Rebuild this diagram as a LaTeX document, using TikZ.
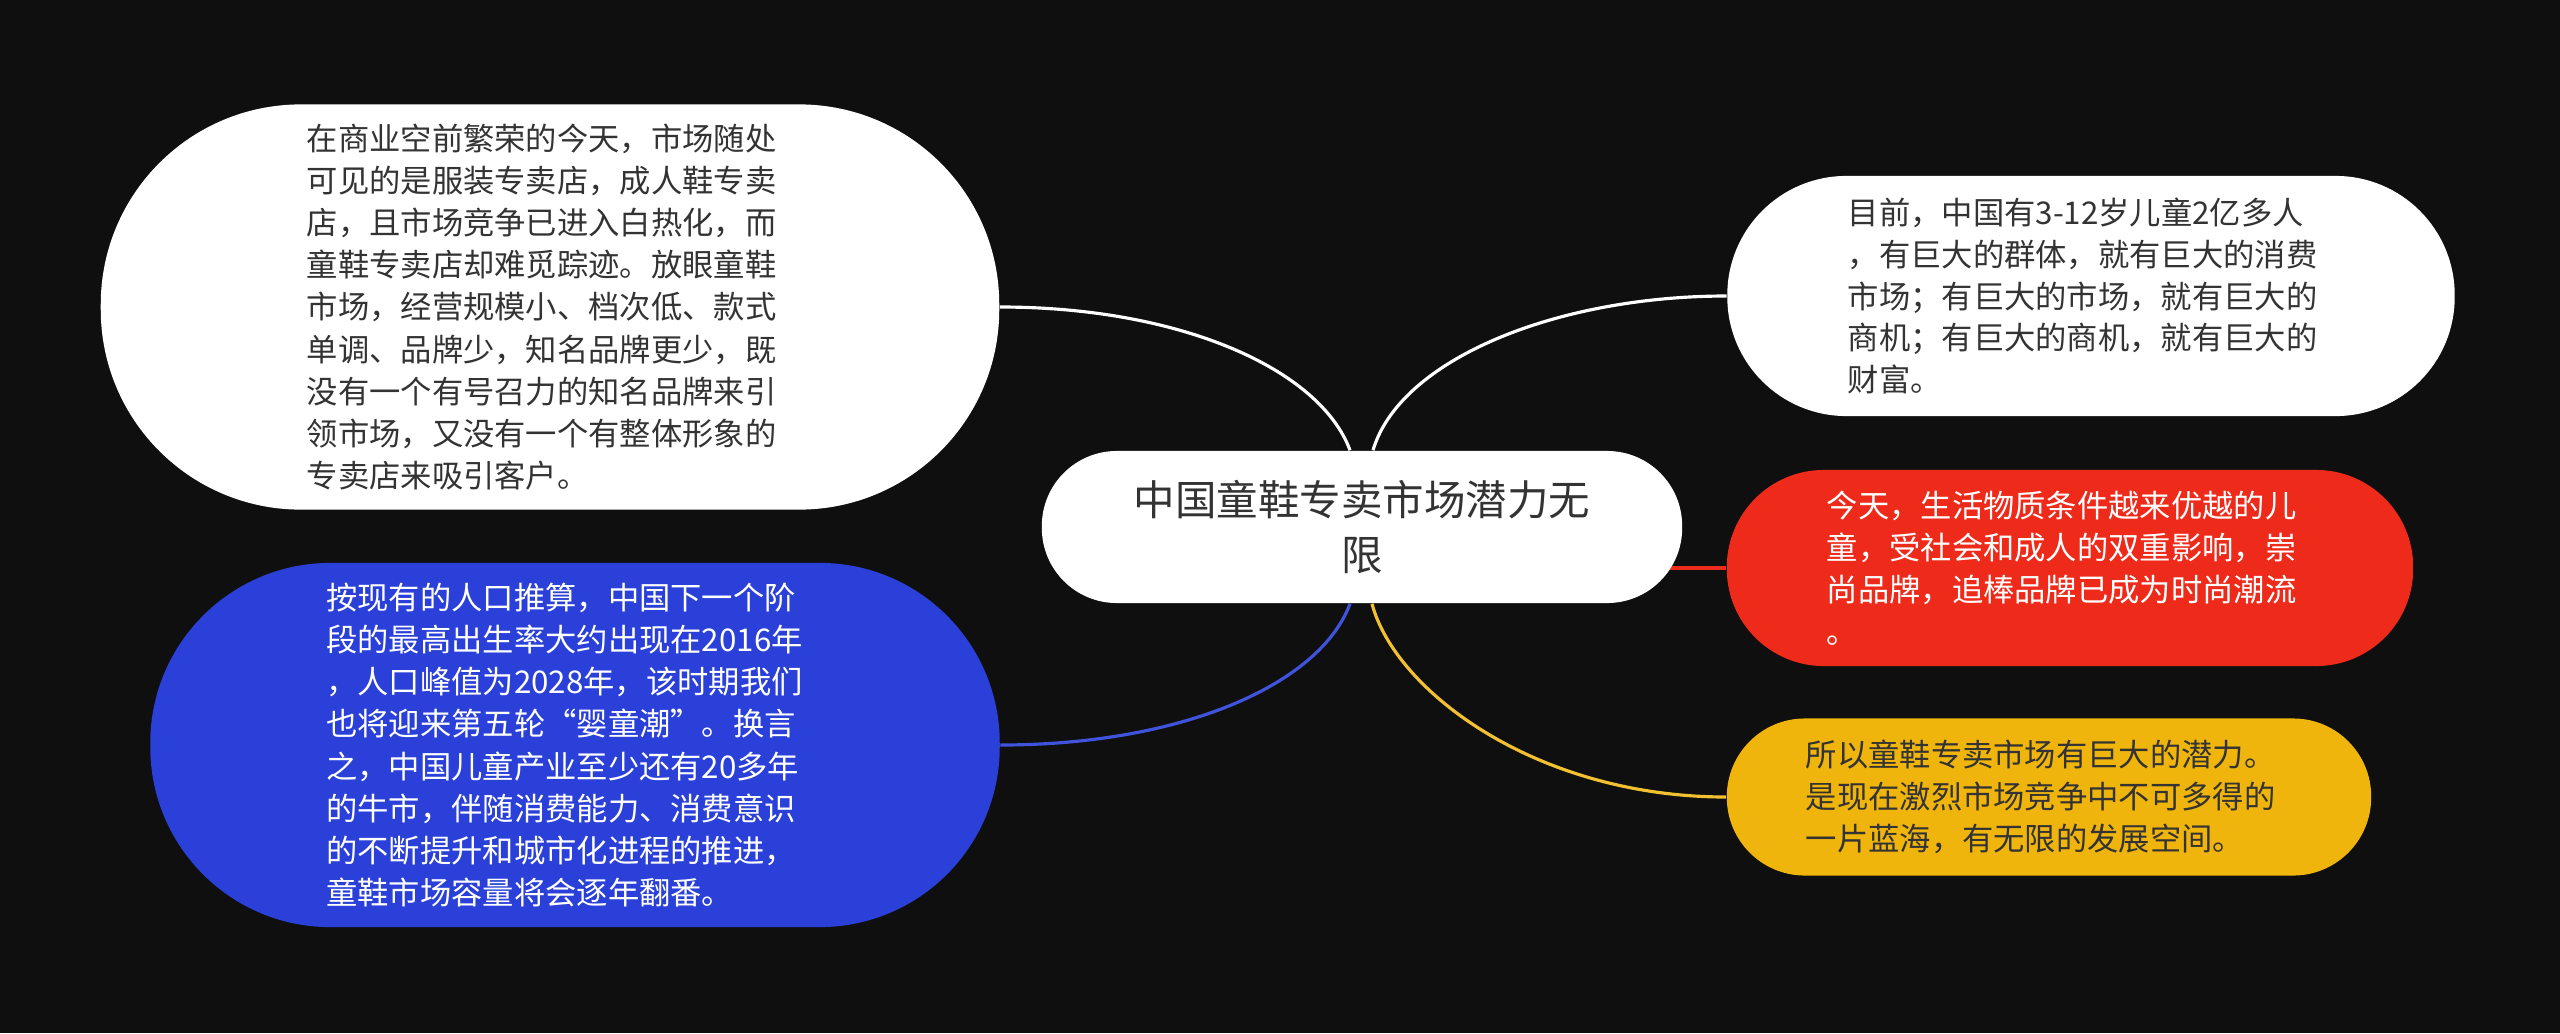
\documentclass[tikz,border=0pt]{standalone}
\usepackage{fontspec}
\newfontfamily\cjkfont{Noto Sans CJK SC}
\usetikzlibrary{backgrounds}
\definecolor{bgdark}{HTML}{0F0F10}
\definecolor{topicblue}{HTML}{2A40D8}
\definecolor{topicred}{HTML}{EE2B1B}
\definecolor{topicyellow}{HTML}{F0B50D}
\definecolor{inkdark}{HTML}{333333}
\tikzset{
  topic/.style={rectangle, inner sep=0pt, align=left, text width=4.86cm,
    font=\cjkfont\fontsize{8.9pt}{12pt}\selectfont},
  topicwide/.style={topic, font=\cjkfont\fontsize{8.9pt}{11.9pt}\selectfont},
  link/.style={line width=0.9pt}
}
\begin{document}
\begin{tikzpicture}[x=0.01cm, y=-0.01cm, line join=round, line cap=round]
    \useasboundingbox (0,0) rectangle (2560,1033);
    % main topic
    \node[rectangle, fill=white, text=inkdark, align=center, inner sep=0pt,
      minimum width=6.4cm, minimum height=1.52cm, rounded corners=0.75cm,
      font=\cjkfont\fontsize{11.8pt}{15.9pt}\selectfont] (root) at (1362,527)
      {中国童鞋专卖市场潜力无\\限};
    % left side
    \node[topic, fill=white, text=inkdark, minimum width=8.98cm, minimum height=4.05cm,
      rounded corners=2cm] (shops) at (550,307)
      {在商业空前繁荣的今天，市场随处\\可见的是服装专卖店，成人鞋专卖\\店，且市场竞争已进入白热化，而\\童鞋专卖店却难觅踪迹。放眼童鞋\\市场，经营规模小、档次低、款式\\单调、品牌少，知名品牌更少，既\\没有一个有号召力的知名品牌来引\\领市场，又没有一个有整体形象的\\专卖店来吸引客户。};
    \node[topic, text width=4.97cm, fill=topicblue, text=white, minimum width=8.49cm,
      minimum height=3.64cm, rounded corners=1.8cm] (birth) at (575,745)
      {按现有的人口推算，中国下一个阶\\段的最高出生率大约出现在2016年\\，人口峰值为2028年，该时期我们\\也将迎来第五轮“婴童潮”。换言\\之，中国儿童产业至少还有20多年\\的牛市，伴随消费能力、消费意识\\的不断提升和城市化进程的推进，\\童鞋市场容量将会逐年翻番。};
    % right side
    \node[topicwide, fill=white, text=inkdark, minimum width=7.27cm, minimum height=2.4cm,
      rounded corners=1.19cm] (kids) at (2091,296)
      {目前，中国有3-12岁儿童2亿多人\\，有巨大的群体，就有巨大的消费\\市场；有巨大的市场，就有巨大的\\商机；有巨大的商机，就有巨大的\\财富。};
    \node[topicwide, fill=topicred, text=white, minimum width=6.86cm, minimum height=1.96cm,
      rounded corners=0.97cm] (brand) at (2070,568)
      {今天，生活物质条件越来优越的儿\\童，受社会和成人的双重影响，崇\\尚品牌，追棒品牌已成为时尚潮流\\。};
    \node[topicwide, fill=topicyellow, text=inkdark, minimum width=6.44cm, minimum height=1.57cm,
      rounded corners=0.78cm] (ocean) at (2049,797)
      {所以童鞋专卖市场有巨大的潜力。\\是现在激烈市场竞争中不可多得的\\一片蓝海，有无限的发展空间。};
    \begin{scope}[on background layer]
        \fill[bgdark] (0,0) rectangle (2560,1033);
        %\draw[line width=0.1pt,dashed] (0,0) grid[step=1cm] (2560,1033);
        \draw[link, white] ([xshift=-0.12cm]root.north) .. controls +(-30,-81) and +(181,0) .. (shops.east);
        \draw[link, topicblue!90!white] ([xshift=-0.12cm]root.south) .. controls +(-30,81) and +(181,0) .. (birth.east);
        \draw[link, white] ([xshift=0.11cm]root.north) .. controls +(27,-91) and +(-170,0) .. (kids.west);
        \draw[link, topicred] (root.center |- brand.west) -- (brand.west);
        \draw[link, topicyellow!85!white] ([xshift=0.1cm]root.south) .. controls +(23,87) and +(-190,0) .. (ocean.west);
    \end{scope}
\end{tikzpicture}
\end{document}
